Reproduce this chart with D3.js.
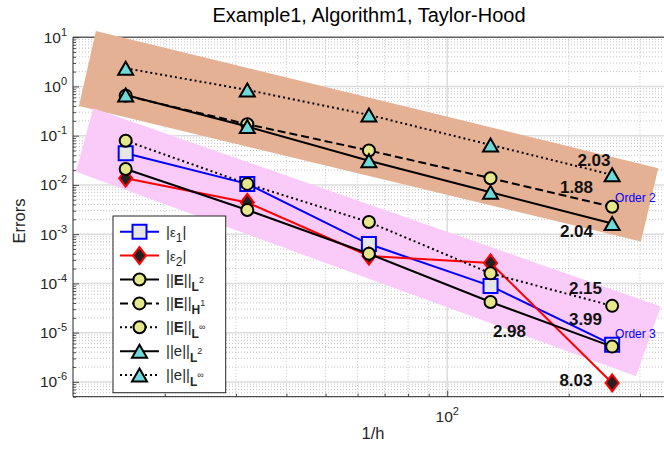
<!DOCTYPE html>
<html>
<head>
<meta charset="utf-8">
<script src="https://cdn.jsdelivr.net/npm/d3@7"></script>
<style>
  body { margin: 0; background: #fff; }
  svg { font-family: 'Liberation Sans', Arial, Helvetica, sans-serif; }
</style>
</head>
<body>
<svg id="chart" width="664" height="449"></svg>
<script>
// 1/h values and error series
var invH = [16, 32, 64, 128, 256];
var eps1 = [4.4e-2, 1.05e-2, 6.3e-4, 8.9e-5, 5.7e-6];
var eps2 = [1.37e-2, 4.4e-3, 3.6e-4, 2.6e-4, 9.5e-7];
var errEL2 = [2.1e-2, 3.1e-3, 4.0e-4, 4.2e-5, 5.2e-6];
var errEH1 = [0.65, 0.171, 0.050, 0.0137, 3.6e-3];
var errELinf = [7.9e-2, 1.05e-2, 1.76e-3, 1.6e-4, 3.5e-5];
var erreL2 = [0.67, 0.153, 0.031, 7.1e-3, 1.65e-3];
var erreLinf = [2.34, 0.85, 0.264, 0.065, 0.016];

// order bands (corners in data units: [1/h, error])
var bandOrder2 = [[13.5, 13.4], [333, 0.0219], [301.7, 7.1e-4], [12.26, 0.402]];
var bandOrder3 = [[13.3, 0.361], [337.6, 3.41e-5], [293.3, 1.3e-6], [12.05, 0.01845]];

// slope annotations (anchored in data units)
var slopeText = ['2.03', '1.88', '2.04', '2.15', '3.99', '8.03', '2.98'];
var slopeX = [230.8, 208.9, 208.9, 219.9, 219.9, 208.3, 142.6];
var slopeY = [0.0323, 9.15e-3, 1.17e-3, 8.18e-5, 1.92e-5, 1.11e-6, 1.1e-5];
var orderText = ['Order 2', 'Order 3'];
var orderX = [292.4, 292.4];
var orderY = [5.47e-3, 9.55e-6];

// axis ticks
var yMajorTicks = [1e-6, 1e-5, 1e-4, 1e-3, 1e-2, 1e-1, 1, 10];
var xMajorTicks = [100];
var xMinorTicks = [20, 30, 40, 50, 60, 70, 80, 90, 200, 300];

var svg = d3.select('#chart');

var x = d3.scaleLog().domain([11.85, 346]).range([73, 665]);
var y = d3.scaleLog().domain([5e-7, 10]).range([396.7, 37.2]);

var yMinorTicks = [];
for (var e = -7; e <= 0; e++) {
  for (var m = 2; m <= 9; m++) {
    var v = m * Math.pow(10, e);
    if (v >= 5e-7 && v <= 10) yMinorTicks.push(v);
  }
}

var x0 = x.range()[0], x1 = x.range()[1];
var yb = y.range()[0], yt = y.range()[1];

// grid
var grid = svg.append('g');
grid.selectAll('.hmin').data(yMinorTicks).enter().append('line')
  .attr('x1', x0).attr('x2', x1)
  .attr('y1', d => y(d)).attr('y2', d => y(d))
  .attr('stroke', '#c4c4c4').attr('stroke-width', 1)
  .attr('stroke-dasharray', '1,2');
grid.selectAll('.vmin').data(xMinorTicks).enter().append('line')
  .attr('x1', d => x(d)).attr('x2', d => x(d))
  .attr('y1', yt).attr('y2', yb)
  .attr('stroke', '#c4c4c4').attr('stroke-width', 1)
  .attr('stroke-dasharray', '1,2');
grid.selectAll('.hmaj').data(yMajorTicks).enter().append('line')
  .attr('x1', x0).attr('x2', x1)
  .attr('y1', d => y(d)).attr('y2', d => y(d))
  .attr('stroke', '#dcdcdc').attr('stroke-width', 1.5);
grid.selectAll('.vmaj').data(xMajorTicks).enter().append('line')
  .attr('x1', d => x(d)).attr('x2', d => x(d))
  .attr('y1', yt).attr('y2', yb)
  .attr('stroke', '#dcdcdc').attr('stroke-width', 1.5);

// axes
var axisColor = '#262626';
svg.append('g')
  .attr('transform', `translate(${x0},0)`)
  .call(d3.axisLeft(y).tickValues(yMajorTicks).tickSize(-6).tickFormat(''));
svg.append('g')
  .attr('transform', `translate(${x0},0)`)
  .call(d3.axisLeft(y).tickValues(yMinorTicks).tickSize(-3).tickFormat(''));
svg.append('g')
  .attr('transform', `translate(0,${yb})`)
  .call(d3.axisBottom(x).tickValues(xMajorTicks).tickSize(-6).tickFormat(''));
svg.append('g')
  .attr('transform', `translate(0,${yb})`)
  .call(d3.axisBottom(x).tickValues(xMinorTicks).tickSize(-3).tickFormat(''));
svg.selectAll('.domain').remove();
svg.selectAll('.tick line').attr('stroke', axisColor).attr('stroke-width', 0.8);

svg.append('path')
  .attr('d', `M${x1},${yt}H${x0}V${yb}H${x1}`)
  .attr('fill', 'none').attr('stroke', axisColor).attr('stroke-width', 1);

// tick labels
function powLabel(g, d) {
  var e = Math.round(Math.log10(d));
  g.append('tspan').text('10');
  g.append('tspan').attr('dy', -7).attr('font-size', 11).text(e);
}
svg.selectAll('.ylab').data(yMajorTicks).enter().append('text')
  .attr('x', x0 - 6).attr('y', d => y(d) + 5.5)
  .attr('text-anchor', 'end').attr('font-size', 15.5).attr('fill', axisColor)
  .each(function(d) { powLabel(d3.select(this), d); });
svg.selectAll('.xlab').data(xMajorTicks).enter().append('text')
  .attr('x', d => x(d)).attr('y', 422)
  .attr('text-anchor', 'middle').attr('font-size', 15.5).attr('fill', axisColor)
  .each(function(d) { powLabel(d3.select(this), d); });

svg.append('text').attr('x', 373).attr('y', 439)
  .attr('text-anchor', 'middle').attr('font-size', 16.5).attr('fill', axisColor)
  .text('1/h');
svg.append('text').attr('transform', 'translate(25,221) rotate(-90)')
  .attr('text-anchor', 'middle').attr('font-size', 16.5).attr('fill', axisColor)
  .text('Errors');
svg.append('text').attr('x', 369).attr('y', 22)
  .attr('text-anchor', 'middle').attr('font-size', 20).attr('fill', '#000')
  .text('Example1, Algorithm1, Taylor-Hood');

// bands
var poly = d3.line().x(d => x(d[0])).y(d => y(d[1]));
svg.append('path').attr('d', poly(bandOrder2) + 'Z').attr('fill', '#e5b195');
svg.append('path').attr('d', poly(bandOrder3) + 'Z').attr('fill', '#facaf8');

// markers
function markerPath(type) {
  if (type === 'square') return 'M-7,-7H7V7H-7Z';
  if (type === 'diamond') return 'M0,-8.5L6.5,0L0,8.5L-6.5,0Z';
  if (type === 'triangle') return 'M0,-6.5L7.5,6.5L-7.5,6.5Z';
  return d3.arc()({innerRadius: 0, outerRadius: 6, startAngle: 0, endAngle: 2 * Math.PI});
}

var series = [
  {values: eps1, stroke: '#0000ff', dash: null, marker: 'square', fill: '#e6e6e6', edge: '#0000ff'},
  {values: eps2, stroke: '#ff0000', dash: null, marker: 'diamond', fill: '#222222', edge: '#ff0000'},
  {values: errEL2, stroke: '#000', dash: null, marker: 'circle', fill: '#e6e68a', edge: '#000'},
  {values: errEH1, stroke: '#000', dash: '8,4', marker: 'circle', fill: '#e6e68a', edge: '#000'},
  {values: errELinf, stroke: '#000', dash: '2,3', marker: 'circle', fill: '#e6e68a', edge: '#000'},
  {values: erreL2, stroke: '#000', dash: null, marker: 'triangle', fill: '#6fd8d8', edge: '#000'},
  {values: erreLinf, stroke: '#000', dash: '2,3', marker: 'triangle', fill: '#6fd8d8', edge: '#000'}
];

var line = d3.line().x(d => x(d[0])).y(d => y(d[1]));

series.forEach(function(s) {
  var pts = invH.map((h, i) => [h, s.values[i]]);
  svg.append('path')
    .attr('d', line(pts))
    .attr('fill', 'none')
    .attr('stroke', s.stroke)
    .attr('stroke-width', 2)
    .attr('stroke-dasharray', s.dash);
  svg.append('g').selectAll('path').data(pts).enter().append('path')
    .attr('transform', d => `translate(${x(d[0])},${y(d[1])})`)
    .attr('d', markerPath(s.marker))
    .attr('fill', s.fill)
    .attr('stroke', s.edge)
    .attr('stroke-width', 2);
});

// annotations
svg.selectAll('.slope').data(slopeText).enter().append('text')
  .attr('x', (d, i) => x(slopeX[i])).attr('y', (d, i) => y(slopeY[i]))
  .attr('dy', '0.36em').attr('text-anchor', 'middle')
  .attr('font-size', 17).attr('font-weight', 'bold').attr('fill', '#111')
  .text(d => d);
svg.selectAll('.order').data(orderText).enter().append('text')
  .attr('x', (d, i) => x(orderX[i])).attr('y', (d, i) => y(orderY[i]))
  .attr('dy', '0.36em').attr('text-anchor', 'middle')
  .attr('font-size', 12).attr('fill', '#0000ff')
  .text(d => d);

// legend
var legendLabels = [
  [{t: '|'}, {t: 'ε', size: 13}, {t: '1', size: 12, dy: 5}, {t: '|', dy: -5}],
  [{t: '|'}, {t: 'ε', size: 13}, {t: '2', size: 12, dy: 5}, {t: '|', dy: -5}],
  [{t: '||'}, {t: 'E', bold: true}, {t: '||'}, {t: 'L', bold: true, size: 12, dy: 6}, {t: '2', size: 9, dy: -8}],
  [{t: '||'}, {t: 'E', bold: true}, {t: '||'}, {t: 'H', bold: true, size: 12, dy: 6}, {t: '1', size: 9, dy: -8}],
  [{t: '||'}, {t: 'E', bold: true}, {t: '||'}, {t: 'L', bold: true, size: 12, dy: 6}, {t: '∞', size: 9, dy: -8}],
  [{t: '||e||'}, {t: 'L', bold: true, size: 12, dy: 6}, {t: '2', size: 9, dy: -8}],
  [{t: '||e||'}, {t: 'L', bold: true, size: 12, dy: 6}, {t: '∞', size: 9, dy: -8}]
];

var legend = svg.append('g');
legend.append('rect')
  .attr('x', 113).attr('y', 216).attr('width', 112.7).attr('height', 176.7)
  .attr('fill', '#fff').attr('stroke', axisColor).attr('stroke-width', 1);

series.forEach(function(s, i) {
  var cy = 231.7 + i * 23.9;
  legend.append('line')
    .attr('x1', 120).attr('x2', 159).attr('y1', cy).attr('y2', cy)
    .attr('stroke', s.stroke).attr('stroke-width', 2)
    .attr('stroke-dasharray', s.dash);
  legend.append('path')
    .attr('transform', `translate(139.5,${cy})`)
    .attr('d', markerPath(s.marker))
    .attr('fill', s.fill).attr('stroke', s.edge).attr('stroke-width', 2);
  var t = legend.append('text')
    .attr('x', 166).attr('y', cy + 5)
    .attr('font-size', 15).attr('fill', axisColor);
  legendLabels[i].forEach(function(p) {
    var ts = t.append('tspan').text(p.t);
    if (p.bold) ts.attr('font-weight', 'bold');
    if (p.size) ts.attr('font-size', p.size);
    if (p.dy) ts.attr('dy', p.dy);
  });
});
</script>
</body>
</html>
